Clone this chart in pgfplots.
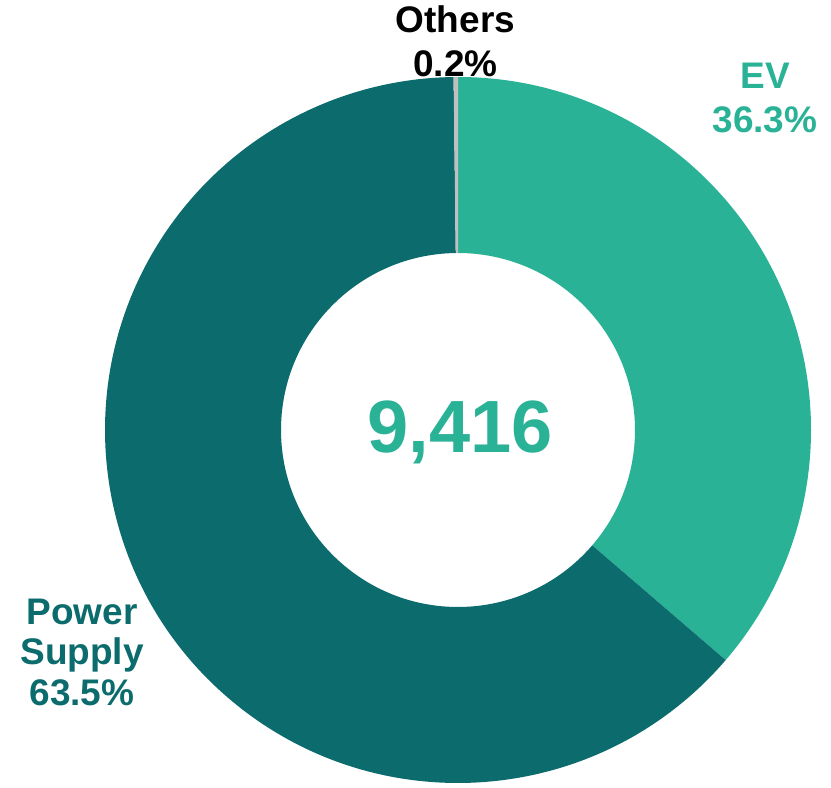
\documentclass[border=0pt]{standalone}
\usepackage{pgfplots}
\usepackage{pgfplotstable}
\usepackage{fontspec}
\setmainfont{Liberation Sans}
\pgfplotsset{compat=1.18}
\definecolor{evcol}{RGB}{41,178,150}
\definecolor{pscol}{RGB}{12,107,108}
\definecolor{otcol}{RGB}{191,191,191}

% share (%) of each segment, clockwise from 12 o'clock
\pgfplotstableread{
label value
EV 36.3
PowerSupply 63.5
Others 0.2
}\donut
\pgfplotstablecreatecol[create col/expr accum={\pgfmathaccuma + \thisrow{value}}{0}]{cum}\donut

\pgfplotstablegetelem{0}{cum}\of\donut \pgfmathsetmacro{\eA}{90-3.6*\pgfplotsretval}
\pgfplotstablegetelem{1}{cum}\of\donut \pgfmathsetmacro{\eB}{90-3.6*\pgfplotsretval}
\pgfplotstablegetelem{2}{cum}\of\donut \pgfmathsetmacro{\eC}{90-3.6*\pgfplotsretval}

\newcommand{\seg}[3]{% start, end, colour
  \fill[#3] ([shift={(#1:353pt)}]axis cs:458,358) arc[start angle=#1, end angle=#2, radius=353pt]
    -- ([shift={(#2:177pt)}]axis cs:458,358) arc[start angle=#2, end angle=#1, radius=177pt] -- cycle;}

\begin{document}
\begin{tikzpicture}
\begin{axis}[
  scale only axis, width=831pt, height=788pt,
  xmin=0, xmax=831, ymin=0, ymax=788,
  hide axis, clip=false,
]
\seg{90}{\eA}{evcol}
\seg{\eA}{\eB}{pscol}
\seg{\eB}{\eC}{otcol}

\node[anchor=base, font=\fontsize{74}{80}\selectfont\bfseries, text=evcol] at (axis cs:460,335) {9,416};

\node[anchor=base, font=\fontsize{37}{40}\selectfont\bfseries, text=black] at (axis cs:455.5,755) {Others};
\node[anchor=base, font=\fontsize{37}{40}\selectfont\bfseries, text=black] at (axis cs:455.5,711) {0.2\%};

\node[anchor=base, font=\fontsize{37}{40}\selectfont\bfseries, text=evcol] at (axis cs:765,699) {EV};
\node[anchor=base, font=\fontsize{37}{40}\selectfont\bfseries, text=evcol] at (axis cs:765,655) {36.3\%};

\node[anchor=base, font=\fontsize{37}{40}\selectfont\bfseries, text=pscol] at (axis cs:82,163) {Power};
\node[anchor=base, font=\fontsize{37}{40}\selectfont\bfseries, text=pscol] at (axis cs:82,123) {Supply};
\node[anchor=base, font=\fontsize{37}{40}\selectfont\bfseries, text=pscol] at (axis cs:82,82) {63.5\%};
\end{axis}
\pgfresetboundingbox
\path (current axis.south west) rectangle (current axis.north east);
\end{tikzpicture}
\end{document}
